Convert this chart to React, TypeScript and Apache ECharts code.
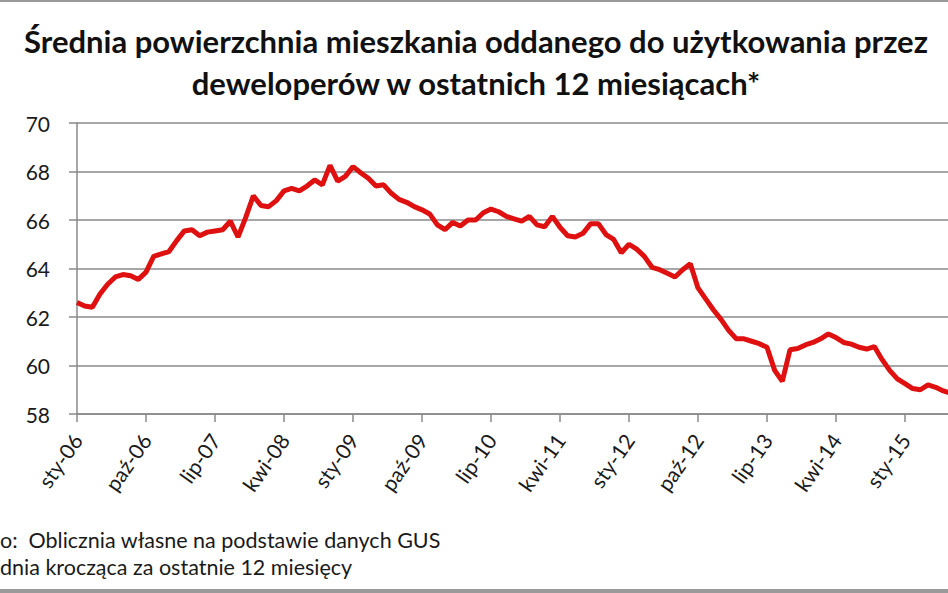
import React, { useEffect, useRef } from "react";
import * as echarts from "echarts";

const monthNames = ["sty", "lut", "mar", "kwi", "maj", "cze", "lip", "sie", "wrz", "paź", "lis", "gru"];
const startYear = 2006;
const labelEvery = 9;

// Średnia powierzchnia (m2), monthly from sty-06
const values = [
  62.6, 62.45, 62.4, 62.95, 63.35, 63.65, 63.75, 63.7, 63.55, 63.85,
  64.5, 64.6, 64.7, 65.15, 65.55, 65.6, 65.35, 65.5, 65.55, 65.6,
  65.95, 65.3, 66.1, 67.0, 66.6, 66.55, 66.8, 67.2, 67.3, 67.2,
  67.4, 67.65, 67.45, 68.25, 67.6, 67.8, 68.2, 67.95, 67.72, 67.4,
  67.45, 67.1, 66.85, 66.73, 66.55, 66.42, 66.25, 65.8, 65.6, 65.9,
  65.75, 66.0, 66.0, 66.3, 66.45, 66.34, 66.15, 66.05, 65.95, 66.15,
  65.8, 65.72, 66.15, 65.7, 65.35, 65.3, 65.45, 65.85, 65.85, 65.4,
  65.2, 64.65, 65.0, 64.8, 64.5, 64.05, 63.95, 63.8, 63.65, 63.95,
  64.2, 63.2, 62.75, 62.3, 61.9, 61.45, 61.1, 61.1, 61.0, 60.9,
  60.75, 59.8, 59.35, 60.65, 60.7, 60.85, 60.95, 61.1, 61.3, 61.15,
  60.95, 60.88, 60.75, 60.68, 60.78, 60.25, 59.8, 59.45, 59.25, 59.05,
  59.0, 59.2, 59.1, 58.95, 58.85,
];

const categories = values.map((_, i) => {
  const m = i % 12;
  const y = startYear + Math.floor(i / 12);
  return `${monthNames[m]}-${String(y % 100).padStart(2, "0")}`;
});

const titleLines = [
  "Średnia powierzchnia mieszkania oddanego do użytkowania przez",
  "deweloperów w ostatnich 12 miesiącach*",
];
const footerLines = [
  "o:  Oblicznia własne na podstawie danych GUS",
  "dnia krocząca za ostatnie 12 miesięcy",
];

const FONT = "Lato, 'Open Sans', sans-serif";

export default function App() {
  const ref = useRef<HTMLDivElement>(null);
  useEffect(() => {
    if (!ref.current) return;
    const chart = echarts.init(ref.current, undefined, { renderer: "svg" });
    chart.setOption({
      animation: false,
      backgroundColor: "#ffffff",
      grid: {
        left: 77,
        top: 123,
        bottom: 179,
        right: 9,
        containLabel: false,
        outerBoundsMode: "none",
      },
      xAxis: {
        type: "category",
        data: categories,
        boundaryGap: false,
        axisLine: { lineStyle: { color: "#8a8a8a", width: 1.5 } },
        axisTick: { interval: labelEvery - 1, length: 8, lineStyle: { color: "#8a8a8a", width: 1.5 } },
        axisLabel: {
          interval: labelEvery - 1,
          rotate: 55,
          fontFamily: FONT,
          fontSize: 21,
          color: "#1a1a1a",
          margin: 22,
        },
        splitLine: { show: false },
      },
      yAxis: {
        type: "value",
        min: 58,
        max: 70,
        interval: 2,
        axisLine: { show: true, lineStyle: { color: "#8a8a8a", width: 1.5 } },
        axisTick: { show: true, length: 8, lineStyle: { color: "#8a8a8a", width: 1.5 } },
        axisLabel: {
          fontFamily: FONT,
          fontSize: 21,
          color: "#1a1a1a",
          margin: 27,
        },
        splitLine: { lineStyle: { color: "#8a8a8a", width: 1.5 } },
      },
      series: [
        {
          type: "line",
          data: values,
          symbol: "none",
          lineStyle: { color: "#de1010", width: 5 },
        },
      ],
      graphic: [
        { type: "rect", shape: { x: 0, y: 0, width: 960, height: 2 }, style: { fill: "#9a9a9a" } },
        { type: "rect", shape: { x: 0, y: 589, width: 960, height: 4 }, style: { fill: "#9a9a9a" } },
        {
          type: "text",
          x: 476,
          y: 41,
          style: {
            text: titleLines[0],
            fontFamily: FONT,
            fontWeight: "bold",
            fontSize: 31,
            fill: "#111111",
            align: "center",
            verticalAlign: "middle",
          },
        },
        {
          type: "text",
          x: 476,
          y: 83,
          style: {
            text: titleLines[1],
            fontFamily: FONT,
            fontWeight: "bold",
            fontSize: 31,
            fill: "#111111",
            align: "center",
            verticalAlign: "middle",
          },
        },
        {
          type: "text",
          x: 0,
          y: 540,
          style: {
            text: footerLines[0],
            fontFamily: FONT,
            fontSize: 21.5,
            fill: "#1a1a1a",
            align: "left",
            verticalAlign: "middle",
          },
        },
        {
          type: "text",
          x: 0,
          y: 567,
          style: {
            text: footerLines[1],
            fontFamily: FONT,
            fontSize: 21.5,
            fill: "#1a1a1a",
            align: "left",
            verticalAlign: "middle",
          },
        },
      ],
    });
    return () => chart.dispose();
  }, []);
  return (
    <div
      style={{
        position: "fixed",
        left: 0,
        top: 0,
        width: 948,
        height: 593,
        overflow: "hidden",
        background: "#fff",
      }}
    >
      <div ref={ref} style={{ width: 960, height: 593 }} />
    </div>
  );
}
